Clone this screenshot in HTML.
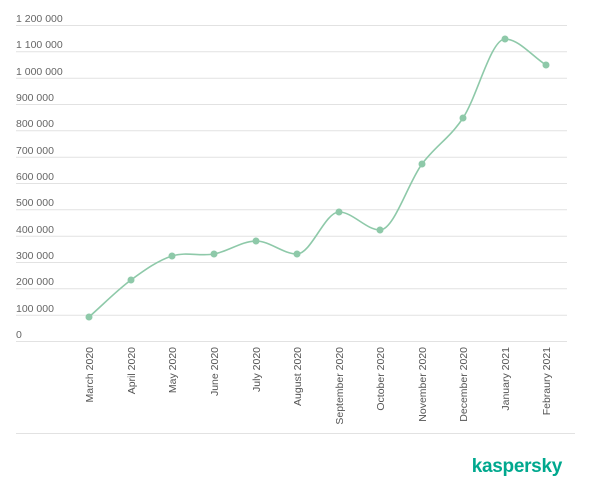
<!DOCTYPE html>
<html><head><style>
body{margin:0;background:#fff;width:600px;height:478px;overflow:hidden;font-family:"Liberation Sans",sans-serif}
</style></head><body>
<svg width="600" height="478" xmlns="http://www.w3.org/2000/svg" font-family="Liberation Sans, sans-serif">
<g stroke="#e2e2e2" stroke-width="1">
<line x1="16" x2="567" y1="25.5" y2="25.5"/><line x1="16" x2="567" y1="51.8" y2="51.8"/><line x1="16" x2="567" y1="78.2" y2="78.2"/><line x1="16" x2="567" y1="104.5" y2="104.5"/><line x1="16" x2="567" y1="130.8" y2="130.8"/><line x1="16" x2="567" y1="157.2" y2="157.2"/><line x1="16" x2="567" y1="183.5" y2="183.5"/><line x1="16" x2="567" y1="209.8" y2="209.8"/><line x1="16" x2="567" y1="236.2" y2="236.2"/><line x1="16" x2="567" y1="262.5" y2="262.5"/><line x1="16" x2="567" y1="288.8" y2="288.8"/><line x1="16" x2="567" y1="315.2" y2="315.2"/><line x1="16" x2="567" y1="341.5" y2="341.5"/>
<line x1="16" x2="575" y1="433.5" y2="433.5"/>
</g>
<g fill="#666" font-size="10.5">
<text x="16" y="22">1 200 000</text><text x="16" y="48">1 100 000</text><text x="16" y="75">1 000 000</text><text x="16" y="101">900 000</text><text x="16" y="127">800 000</text><text x="16" y="154">700 000</text><text x="16" y="180">600 000</text><text x="16" y="206">500 000</text><text x="16" y="233">400 000</text><text x="16" y="259">300 000</text><text x="16" y="285">200 000</text><text x="16" y="312">100 000</text><text x="16" y="338">0</text>
</g>
<g fill="#555" font-size="10.5" text-anchor="end">
<text transform="translate(93,347) rotate(-90)">March 2020</text>
<text transform="translate(135,347) rotate(-90)">April 2020</text>
<text transform="translate(176,347) rotate(-90)">May 2020</text>
<text transform="translate(218,347) rotate(-90)">June 2020</text>
<text transform="translate(260,347) rotate(-90)">July 2020</text>
<text transform="translate(301,347) rotate(-90)">August 2020</text>
<text transform="translate(343,347) rotate(-90)">September 2020</text>
<text transform="translate(384,347) rotate(-90)">October 2020</text>
<text transform="translate(426,347) rotate(-90)">November 2020</text>
<text transform="translate(467,347) rotate(-90)">December 2020</text>
<text transform="translate(509,347) rotate(-90)">January 2021</text>
<text transform="translate(550,347) rotate(-90)">Febraury 2021</text>
</g>
<path fill="none" stroke="#8ec9a9" stroke-width="1.6" d="M89,317 C103,304.7 117,290.3 131,280 C144.7,270 158.3,260.3 172,256 C186,251.6 200,256.5 214,254 C228,251.5 242,241 256,241 C269.7,241 283.3,254 297,254 C311,254 325,212 339,212 C352.7,212 366.3,230 380,230 C394,230 408,182.9 422,164 C435.7,145.6 449.3,138.6 463,118 C477,96.9 491,39 505,39 C518.7,39 532.3,56.3 546,65"/>
<g fill="#8ec9a9">
<circle cx="89" cy="317" r="3.5"/><circle cx="131" cy="280" r="3.5"/><circle cx="172" cy="256" r="3.5"/><circle cx="214" cy="254" r="3.5"/><circle cx="256" cy="241" r="3.5"/><circle cx="297" cy="254" r="3.5"/><circle cx="339" cy="212" r="3.5"/><circle cx="380" cy="230" r="3.5"/><circle cx="422" cy="164" r="3.5"/><circle cx="463" cy="118" r="3.5"/><circle cx="505" cy="39" r="3.5"/><circle cx="546" cy="65" r="3.5"/>
</g>
<text x="562" y="472" text-anchor="end" fill="#00a88e" font-size="19" font-weight="bold" letter-spacing="-0.3">kaspersky</text>
</svg>
</body></html>
